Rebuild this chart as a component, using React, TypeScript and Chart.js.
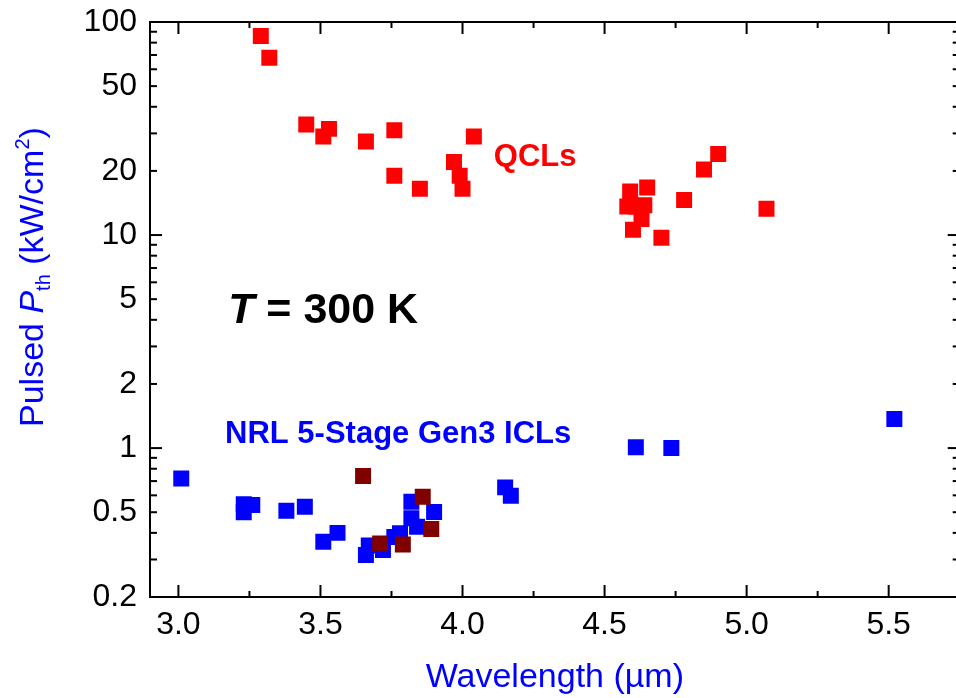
import React, { useEffect, useRef } from 'react';
import { Chart, registerables } from 'chart.js';

Chart.register(...registerables);

// ---- data ----
const QCL_X = [3.29, 3.32, 3.45, 3.51, 3.53, 3.66, 3.76, 3.76, 3.85, 3.97, 3.99, 4.0, 4.04, 4.58, 4.59, 4.6, 4.61, 4.63, 4.64, 4.65, 4.7, 4.78, 4.85, 4.9, 5.07];
const QCL_Y = [86, 68, 33, 29, 31.5, 27.5, 31, 19, 16.5, 22, 19, 16.5, 29, 13.6, 16, 10.6, 13.6, 11.9, 13.8, 16.7, 9.7, 14.6, 20.3, 24, 13.3];

const ICL_X = [3.01, 3.23, 3.26, 3.23, 3.38, 3.445, 3.51, 3.56, 3.66, 3.67, 3.72, 3.76, 3.78, 3.82, 3.82, 3.84, 3.9, 4.15, 4.17, 4.61, 4.735, 5.52];
const ICL_Y = [0.72, 0.545, 0.54, 0.5, 0.508, 0.53, 0.363, 0.4, 0.315, 0.349, 0.332, 0.383, 0.398, 0.56, 0.468, 0.427, 0.501, 0.654, 0.597, 1.01, 1.0, 1.37];

const ICL_DR_X = [3.65, 3.71, 3.79, 3.86, 3.89];
const ICL_DR_Y = [0.739, 0.357, 0.353, 0.591, 0.417];

const X_TICKS = [3.0, 3.5, 4.0, 4.5, 5.0, 5.5];
const X_MINOR_TICKS = [3.25, 3.75, 4.25, 4.75, 5.25];
const Y_TICKS = [0.2, 0.5, 1, 2, 5, 10, 20, 50, 100];
const Y_DECADES = [1, 10, 100];
const Y_MINOR_TICKS = [0.3, 0.4, 0.6, 0.7, 0.8, 0.9, 3, 4, 6, 7, 8, 9, 30, 40, 60, 70, 80, 90];

const FONT = '"Liberation Sans", Arial, Helvetica, sans-serif';
const BLUE = '#0000ff';
const RED = '#ff0000';
const DARK_RED = '#800000';

const toPts = (xs: number[], ys: number[]) => xs.map((x, i) => ({ x, y: ys[i] }));

const decorPlugin = {
  id: 'decor',
  beforeDatasetsDraw(chart: any) {
    const { ctx, chartArea: a, scales } = chart;
    const xs = scales.x;
    const ys = scales.y;
    ctx.save();
    ctx.strokeStyle = '#000';
    ctx.lineWidth = 2;
    ctx.strokeRect(a.left, a.top, a.right - a.left, a.bottom - a.top);
    const line = (x1: number, y1: number, x2: number, y2: number) => {
      ctx.beginPath();
      ctx.moveTo(x1, y1);
      ctx.lineTo(x2, y2);
      ctx.stroke();
    };
    X_TICKS.forEach((v) => {
      const p = xs.getPixelForValue(v);
      line(p, a.bottom, p, a.bottom - 12);
      line(p, a.top, p, a.top + 12);
    });
    X_MINOR_TICKS.forEach((v) => {
      const p = xs.getPixelForValue(v);
      line(p, a.bottom, p, a.bottom - 6);
      line(p, a.top, p, a.top + 6);
    });
    [...Y_TICKS, ...Y_MINOR_TICKS].forEach((v) => {
      const p = ys.getPixelForValue(v);
      const len = Y_DECADES.includes(v) ? 12 : 7;
      line(a.left, p, a.left + len, p);
      line(a.right, p, a.right - len, p);
    });
    ctx.restore();
  },
  afterDatasetsDraw(chart: any) {
    const { ctx, scales } = chart;
    const xs = scales.x;
    const ys = scales.y;
    ctx.save();
    ctx.textAlign = 'left';
    ctx.textBaseline = 'alphabetic';

    // QCLs label
    ctx.fillStyle = RED;
    ctx.font = `bold 31px ${FONT}`;
    ctx.fillText('QCLs', xs.getPixelForValue(4.11), ys.getPixelForValue(21.1));

    // ICL label
    ctx.fillStyle = BLUE;
    ctx.font = `bold 31px ${FONT}`;
    ctx.fillText('NRL 5-Stage Gen3 ICLs', xs.getPixelForValue(3.164), ys.getPixelForValue(1.057));

    // T = 300 K
    ctx.fillStyle = '#000';
    let tx = xs.getPixelForValue(3.175);
    const ty = ys.getPixelForValue(3.87);
    ctx.font = `italic bold 43px ${FONT}`;
    ctx.fillText('T', tx, ty);
    tx += ctx.measureText('T').width;
    ctx.font = `bold 43px ${FONT}`;
    ctx.fillText(' = 300 K', tx, ty);

    // Y axis title
    const F = 34;
    ctx.translate(43, 427);
    ctx.rotate(-Math.PI / 2);
    ctx.fillStyle = BLUE;
    let x = 0;
    const part = (text: string, font: string, dy = 0) => {
      ctx.font = font;
      ctx.fillText(text, x, dy);
      x += ctx.measureText(text).width;
    };
    part('Pulsed ', `${F}px ${FONT}`);
    part('P', `italic ${F}px ${FONT}`);
    part('th', `${Math.round(F * 0.6)}px ${FONT}`, F * 0.22);
    part(' (kW/cm', `${F}px ${FONT}`);
    part('2', `${Math.round(F * 0.6)}px ${FONT}`, -F * 0.42);
    part(')', `${F}px ${FONT}`);
    ctx.restore();
  },
};

export default function App() {
  const ref = useRef<HTMLCanvasElement>(null);
  useEffect(() => {
    document.body.style.margin = '0';
    const canvas = ref.current!;
    const pointOpts = { pointStyle: 'rect', pointRadius: 11.3, pointHoverRadius: 11.3, borderWidth: 0, showLine: false };
    const chart = new Chart(canvas, {
      type: 'scatter',
      data: {
        datasets: [
          { label: 'QCLs', data: toPts(QCL_X, QCL_Y), backgroundColor: RED, borderColor: RED, order: 3, ...pointOpts },
          { label: 'NRL 5-Stage Gen3 ICLs', data: toPts(ICL_X, ICL_Y), backgroundColor: BLUE, borderColor: BLUE, order: 2, ...pointOpts },
          { label: 'ICLs (other)', data: toPts(ICL_DR_X, ICL_DR_Y), backgroundColor: DARK_RED, borderColor: DARK_RED, order: 1, ...pointOpts },
        ] as any,
      },
      options: {
        animation: false,
        responsive: false,
        devicePixelRatio: 1,
        layout: { padding: { left: 0, right: 4, top: 22, bottom: 0 } },
        plugins: { legend: { display: false }, tooltip: { enabled: false } },
        scales: {
          x: {
            type: 'linear',
            min: 2.9,
            max: 5.75,
            grid: { display: false, drawTicks: false },
            border: { display: false },
            ticks: {
              color: '#000',
              font: { family: FONT, size: 32 },
              padding: 9,
              maxRotation: 0,
              autoSkip: false,
              callback: (v: any) => Number(v).toFixed(1),
            },
            title: {
              display: true,
              text: 'Wavelength (µm)',
              color: BLUE,
              font: { family: FONT, size: 34 },
              padding: 0,
            },
            afterBuildTicks: (s: any) => {
              s.ticks = X_TICKS.map((value) => ({ value }));
            },
            afterFit: (s: any) => {
              s.height = 101;
              s.paddingLeft = 0;
              s.paddingRight = 0;
            },
          },
          y: {
            type: 'logarithmic',
            min: 0.2,
            max: 100,
            grid: { display: false, drawTicks: false },
            border: { display: false },
            ticks: {
              color: '#000',
              font: { family: FONT, size: 32 },
              padding: 13,
              autoSkip: false,
              callback: (v: any) => String(v),
            },
            afterBuildTicks: (s: any) => {
              s.ticks = Y_TICKS.map((value) => ({ value }));
            },
            afterFit: (s: any) => {
              s.width = 150;
              s.paddingTop = 0;
              s.paddingBottom = 0;
            },
          },
        },
      } as any,
      plugins: [decorPlugin],
    });
    return () => chart.destroy();
  }, []);
  return (
    <div style={{ width: 956, height: 698, overflow: 'hidden', background: '#fff' }}>
      <canvas ref={ref} width={971} height={698} style={{ display: 'block', width: 971, height: 698 }} />
    </div>
  );
}
